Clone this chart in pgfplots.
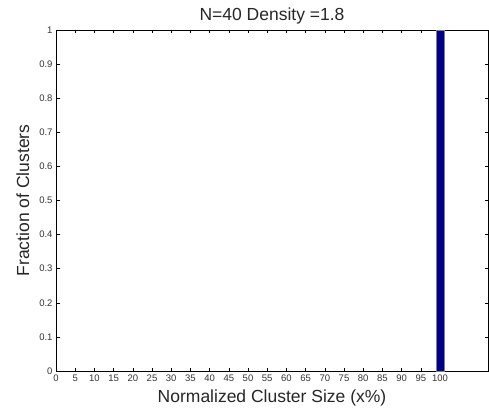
\documentclass[border=0pt]{standalone}
\usepackage{pgfplots}
\pgfplotsset{compat=1.18}
\usepackage{fontspec}
\setmainfont{Liberation Sans}
\begin{document}
\begin{tikzpicture}
\begin{axis}[
  scale only axis,
  width=432pt, height=341pt,
  xmin=0, xmax=112.5, ymin=0, ymax=1,
  xtick={0,5,...,100},
  ytick={0,0.1,...,1},
  yticklabels={0,0.1,0.2,0.3,0.4,0.5,0.6,0.7,0.8,0.9,1},
  tick align=inside,
  major tick length=3.5pt,
  tick style={black, line width=0.5pt},
  axis line style={line width=0.8pt},
  /pgf/number format/assume math mode=true,
  tick label style={font=\fontsize{9.5}{10}\selectfont, text=black!80},
  xticklabel style={yshift=0pt},
  yticklabel style={xshift=0pt},
  xlabel={Normalized Cluster Size (x\%)},
  ylabel={Fraction of Clusters},
  xlabel style={font=\fontsize{17.5}{18}\selectfont, text=black!85, yshift=-2pt},
  ylabel style={font=\fontsize{17.5}{18}\selectfont, text=black!85, yshift=3pt},
  title={N=40 Density =1.8},
  title style={font=\fontsize{17.5}{18}\selectfont, text=black!85, yshift=-4pt},
]
\addplot[ybar, bar width=2, fill={rgb,255:red,0;green,0;blue,140}, draw=gray, line width=0.6pt] coordinates {(100,1)};
\end{axis}
\path (current axis.south west) ++(-56pt,-39pt) coordinate (bbA);
\path (current axis.north east) ++(1pt,30pt) coordinate (bbB);
\path (bbA) rectangle (bbB);
\end{tikzpicture}
\end{document}
